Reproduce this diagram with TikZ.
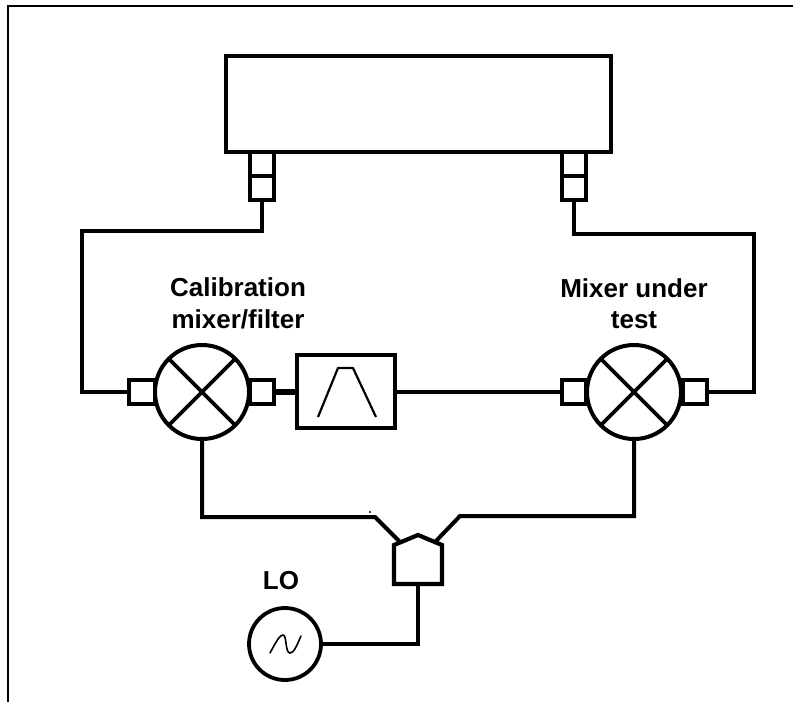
\documentclass[tikz,border=0pt]{standalone}
\usepackage{fontspec}
\setmainfont{Liberation Sans}
\tikzset{
  wire/.style={line width=4pt,line join=miter},
  box/.style={draw,line width=4pt,inner sep=0pt,outer sep=0pt,fill=white},
  port/.style={box,minimum width=24pt,minimum height=24pt},
  mixer/.style={circle,draw,line width=4pt,inner sep=0pt,outer sep=0pt,minimum size=94pt},
  lbl/.style={font=\bfseries\fontsize{26}{31.5}\selectfont,align=center,inner sep=0pt},
}
\begin{document}
\begin{tikzpicture}[x=1pt,y=-1pt]
\useasboundingbox (0,0) rectangle (793,702);
\coordinate (fa) at (8,702); \coordinate (fb) at (8,6); \coordinate (fc) at (793,6);
\draw[line width=2pt,line join=miter] (fa) -- (fb) -- (fc);

% wires routing points
\coordinate (w1) at (82,231);
\coordinate (w2) at (82,392);
\coordinate (w3) at (754,234);
\coordinate (w4) at (754,392);

\node[box,minimum width=385pt,minimum height=96pt] (inst) at (418.5,104) {};
\node[port,minimum height=24pt] (c1a) at (262,164) {};
\node[port] (c1b) at (262,188) {};
\node[port] (c2a) at (574,164) {};
\node[port] (c2b) at (574,188) {};

\node[mixer] (m1) at (202,392) {};
\node[mixer] (m2) at (634,392) {};
\node[port,minimum width=26pt] (p1l) at (142,392) {};
\node[port] (p1r) at (262,392) {};
\node[port] (p2l) at (574,392) {};
\node[port] (p2r) at (695,392) {};
\node[box,minimum width=98pt,minimum height=73pt] (flt) at (346,391.5) {};

\draw[line width=2.2pt,line join=round] (318,417) -- (338,368) -- (353,368) -- (376,417);

\draw[line width=3.6pt] (m1.45) -- (m1.225) (m1.135) -- (m1.-45);
\draw[line width=3.6pt] (m2.45) -- (m2.225) (m2.135) -- (m2.-45);

\draw[wire] (c1b.south) -- (c1b.south |- w1) -- (w1) -- (w2) -- (p1l.west);
\draw[wire] (c2b.south) -- (c2b.south |- w3) -- (w3) -- (w4) -- (p2r.east);
\draw[line width=5.5pt] (p1r.east) -- (flt.west |- p1r.east);
\draw[wire] (flt.east |- p2l.west) -- (p2l.west);

% splitter
\coordinate (s1) at (394,545);
\coordinate (s2) at (418,535);
\coordinate (s3) at (442,545);
\coordinate (s4) at (442,584);
\coordinate (s5) at (394,584);
\draw[line width=4.2pt,line join=miter] (s1) -- (s2) -- (s3) -- (s4) -- (s5) -- cycle;

\coordinate (b1) at (202,517);
\coordinate (b2) at (375,517);
\coordinate (b3) at (400,542);
\coordinate (b4) at (634,516);
\coordinate (b5) at (460,516);
\coordinate (b6) at (436,541);
\draw[wire] (m1.south) -- (b1) -- (b2) -- (b3);
\draw[wire] (m2.south) -- (b4) -- (b5) -- (b6);
\fill (370,512) circle (1.1pt);

\node[circle,draw,line width=3.8pt,inner sep=0pt,outer sep=0pt,minimum size=72pt] (lo) at (285,644) {};
\draw[wire] (lo.east) -| (s4 -| s2);
\draw[line width=1.6pt,line cap=round] (270,653) .. controls (277,640) and (280,635) .. (283,635) .. controls (287,635) and (285,653) .. (290,653) .. controls (294,653) and (297,645) .. (301,636);

\node[lbl] (t1) at (238,303.5) {Calibration\\mixer/filter};
\node[lbl] (t2) at (634,303.5) {Mixer under\\test};
\node[lbl] (t3) at (281,581) {LO};
\end{tikzpicture}
\end{document}
